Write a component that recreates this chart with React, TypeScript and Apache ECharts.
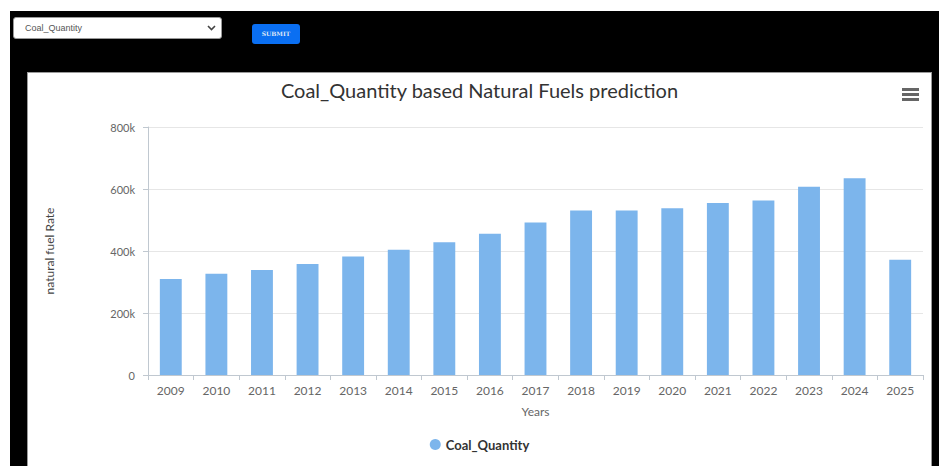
import React, { useEffect, useRef } from "react";
import * as echarts from "echarts";

const years = ["2009", "2010", "2011", "2012", "2013", "2014", "2015", "2016", "2017", "2018", "2019", "2020", "2021", "2022", "2023", "2024", "2025"];
const coalQuantity = [310000, 327000, 339000, 358000, 382000, 404000, 428000, 456000, 492000, 531000, 531000, 538000, 555000, 563000, 607000, 635000, 372000];
const seriesName = "Coal_Quantity";
const titleText = "Coal_Quantity based Natural Fuels prediction";
const xAxisName = "Years";
const yAxisName = "natural fuel Rate";

const FONT = "Lato, 'Open Sans', sans-serif";

function Chart() {
  const ref = useRef<HTMLDivElement>(null);
  useEffect(() => {
    if (!ref.current) return;
    const chart = echarts.init(ref.current, null, { renderer: "svg" });
    chart.setOption({
      animation: false,
      backgroundColor: "#ffffff",
      textStyle: { fontFamily: FONT },
      title: {
        text: titleText,
        left: "center",
        top: 2,
        textStyle: { fontSize: 20, fontWeight: "normal", color: "#333333", fontFamily: FONT },
      },
      legend: {
        data: [{ name: seriesName, icon: "circle" }],
        left: "center",
        top: 360,
        itemWidth: 11,
        itemHeight: 11,
        itemGap: 8,
        textStyle: { fontSize: 13, fontWeight: "bold", color: "#333333", fontFamily: FONT },
      },
      grid: { left: 120, right: 8, top: 54, bottom: 91, containLabel: false },
      xAxis: {
        type: "category",
        data: years,
        name: xAxisName,
        nameLocation: "middle",
        nameGap: 30,
        nameTextStyle: { fontSize: 12, color: "#666666", fontFamily: FONT },
        axisLine: { lineStyle: { color: "#c0c8d0", width: 1 } },
        axisTick: { show: true, alignWithLabel: false, length: 5, lineStyle: { color: "#c0c8d0" } },
        axisLabel: { fontSize: 12, color: "#666666", margin: 9, fontFamily: FONT },
      },
      yAxis: {
        type: "value",
        min: 0,
        max: 800000,
        interval: 200000,
        name: yAxisName,
        nameLocation: "middle",
        nameGap: 93,
        nameRotate: 90,
        nameTextStyle: { fontSize: 12, color: "#444444", fontFamily: FONT },
        axisLine: { show: true, lineStyle: { color: "#c0c8d0", width: 1 } },
        axisTick: { show: true, length: 5, lineStyle: { color: "#c0c8d0" } },
        axisLabel: {
          fontSize: 11,
          color: "#666666",
          margin: 13,
          fontFamily: FONT,
          formatter: (v: number) => (v === 0 ? "0" : v / 1000 + "k"),
        },
        splitLine: { show: true, lineStyle: { color: "#e6e6e6", width: 1 } },
      },
      series: [
        {
          name: seriesName,
          type: "bar",
          data: coalQuantity,
          barWidth: "48%",
          itemStyle: { color: "#7cb5ec" },
        },
      ],
      graphic: [
        { type: "rect", right: 12, top: 15, shape: { x: 0, y: 0, width: 17, height: 3 }, style: { fill: "#666666" } },
        { type: "rect", right: 12, top: 20, shape: { x: 0, y: 0, width: 17, height: 3 }, style: { fill: "#666666" } },
        { type: "rect", right: 12, top: 25, shape: { x: 0, y: 0, width: 17, height: 3 }, style: { fill: "#666666" } },
      ],
    });
    return () => chart.dispose();
  }, []);
  return <div ref={ref} style={{ position: "absolute", left: 0, top: 0, width: 903, height: 393 }} />;
}

export default function App() {
  return (
    <div style={{ position: "fixed", left: 0, top: 0, width: 939, height: 466, background: "#ffffff", overflow: "hidden" }}>
      <div style={{ position: "absolute", left: 10, top: 11, width: 929, height: 455, background: "#000000" }} />
      <div
        style={{
          position: "absolute",
          left: 13,
          top: 17,
          width: 209,
          height: 22,
          background: "#ffffff",
          borderRadius: 3,
          boxSizing: "border-box",
          border: "1px solid #999",
          fontFamily: "Arial, 'Liberation Sans', sans-serif",
          fontSize: 9,
          color: "#555",
          lineHeight: "20px",
          paddingLeft: 11,
        }}
      >
        Coal_Quantity
        <svg style={{ position: "absolute", right: 5, top: 7 }} width="9" height="6" viewBox="0 0 9 6">
          <polyline points="1,1 4.5,4.5 8,1" fill="none" stroke="#444" strokeWidth="1.6" />
        </svg>
      </div>
      <div
        style={{
          position: "absolute",
          left: 252,
          top: 24,
          width: 48,
          height: 20,
          background: "#0a6ff2",
          borderRadius: 3,
          color: "#dfe6f5",
          fontFamily: "'DejaVu Serif', 'Liberation Serif', serif",
          fontSize: 6,
          fontWeight: "bold",
          textAlign: "center",
          lineHeight: "20px",
        }}
      >
        SUBMIT
      </div>
      <div
        style={{
          position: "absolute",
          left: 27,
          top: 72,
          width: 905,
          height: 400,
          boxSizing: "border-box",
          border: "1px solid #9a9a9a",
          background: "#ffffff",
        }}
      >
        <Chart />
      </div>
    </div>
  );
}
